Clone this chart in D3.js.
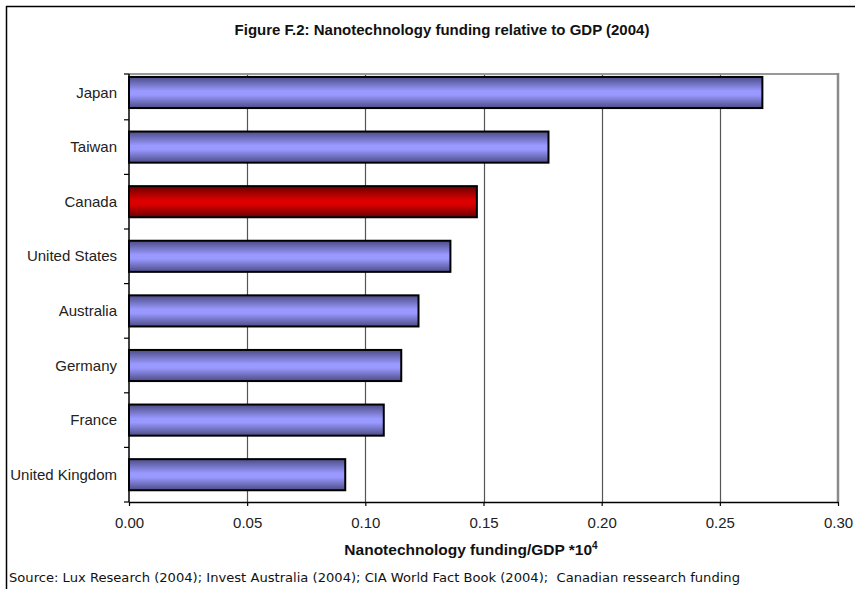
<!DOCTYPE html>
<html>
<head>
<meta charset="utf-8">
<script src="https://cdn.jsdelivr.net/npm/d3@7"></script>
<style>
  html, body { margin: 0; padding: 0; background: #fff; }
  svg { display: block; }
</style>
</head>
<body>
<svg id="chart" width="855" height="589"></svg>
<script>
const categories = ["Japan", "Taiwan", "Canada", "United States", "Australia", "Germany", "France", "United Kingdom"];
const values = [0.268, 0.1775, 0.1472, 0.136, 0.1225, 0.1152, 0.1078, 0.0915];
const highlight = ["Canada"];
const xTicks = [0, 0.05, 0.10, 0.15, 0.20, 0.25, 0.30];
const titleText = "Figure F.2: Nanotechnology funding relative to GDP (2004)";
const xTitleText = "Nanotechnology funding/GDP *10";
const xTitleSup = "4";
const sourceText = "Source: Lux Research (2004); Invest Australia (2004); CIA World Fact Book (2004);\u00a0 Canadian ressearch funding";

const svg = d3.select("#chart");
const W = 855, H = 589;
const plot = { left: 129, right: 838, top: 74, bottom: 502 };

// outer frame (partial, as cropped in reference)
svg.append("line").attr("x1", 6).attr("x2", W).attr("y1", 6.5).attr("y2", 6.5)
  .attr("stroke", "#000").attr("stroke-width", 1.5);
svg.append("line").attr("x1", 6.5).attr("x2", 6.5).attr("y1", 6).attr("y2", H)
  .attr("stroke", "#000").attr("stroke-width", 1.5);

const defs = svg.append("defs");
function grad(id, edge, mid) {
  const g = defs.append("linearGradient").attr("id", id)
    .attr("x1", 0).attr("x2", 0).attr("y1", 0).attr("y2", 1);
  g.append("stop").attr("offset", "0%").attr("stop-color", edge);
  g.append("stop").attr("offset", "45%").attr("stop-color", mid);
  g.append("stop").attr("offset", "58%").attr("stop-color", mid);
  g.append("stop").attr("offset", "100%").attr("stop-color", edge);
}
grad("gBlue", "#4c4c86", "#9999ff");
grad("gRed", "#6a0000", "#dd0000");

const x = d3.scaleLinear().domain([0, 0.30]).range([plot.left, plot.right]);
const step = 54.6;
const y = d3.scaleBand().domain(categories)
  .range([plot.bottom - step * categories.length, plot.bottom])
  .paddingInner(0.43).paddingOuter(0.215);

// title
svg.append("text").attr("x", 442).attr("y", 35).attr("text-anchor", "middle")
  .attr("font-family", "Liberation Sans, Arial, sans-serif").attr("font-weight", "bold")
  .attr("font-size", 15).attr("fill", "#111").text(titleText);

// gridlines
svg.append("g").selectAll("line").data(xTicks.filter(t => t > 0 && t < 0.30)).join("line")
  .attr("x1", d => Math.round(x(d)) + 0.5).attr("x2", d => Math.round(x(d)) + 0.5)
  .attr("y1", plot.top).attr("y2", plot.bottom)
  .attr("stroke", "#555").attr("stroke-width", 1.2);

// top & right frame
svg.append("line").attr("x1", plot.left).attr("x2", plot.right + 1)
  .attr("y1", plot.top).attr("y2", plot.top).attr("stroke", "#999").attr("stroke-width", 2);
svg.append("line").attr("x1", plot.right).attr("x2", plot.right)
  .attr("y1", plot.top - 1).attr("y2", plot.bottom).attr("stroke", "#8a8a8a").attr("stroke-width", 2.5);

// bars
svg.append("g").selectAll("rect").data(categories).join("rect")
  .attr("x", x(0))
  .attr("y", d => y(d))
  .attr("width", (d, i) => x(values[i]) - x(0))
  .attr("height", y.bandwidth())
  .attr("fill", d => highlight.includes(d) ? "url(#gRed)" : "url(#gBlue)")
  .attr("stroke", "#000").attr("stroke-width", 2);

// x axis
const xAxis = d3.axisBottom(x).tickValues(xTicks).tickFormat(d3.format(".2f"))
  .tickSizeInner(4).tickSizeOuter(0).tickPadding(11);
const gx = svg.append("g").attr("transform", `translate(0,${plot.bottom})`).call(xAxis);
gx.select(".domain").attr("stroke", "#000").attr("stroke-width", 1.5);
gx.selectAll(".tick line").attr("stroke", "#000").attr("stroke-width", 1.2);
gx.selectAll(".tick text").attr("font-family", "Liberation Sans, Arial, sans-serif")
  .attr("font-size", 15).attr("fill", "#222");

// y axis line
svg.append("line").attr("x1", plot.left).attr("x2", plot.left)
  .attr("y1", plot.top).attr("y2", plot.bottom).attr("stroke", "#000").attr("stroke-width", 1.5);
// y ticks at band boundaries
const bounds = categories.map(c => y(c) - y.step() * y.paddingInner() / 2);
const tickYs = [plot.top].concat(bounds.slice(1), [plot.bottom]);
svg.append("g").selectAll("line").data(tickYs).join("line")
  .attr("x1", plot.left - 5).attr("x2", plot.left)
  .attr("y1", d => d).attr("y2", d => d)
  .attr("stroke", "#000").attr("stroke-width", 1.2);
// category labels
svg.append("g").selectAll("text").data(categories).join("text")
  .attr("x", 117).attr("y", d => y(d) + y.bandwidth() / 2 + 5)
  .attr("text-anchor", "end")
  .attr("font-family", "Liberation Sans, Arial, sans-serif").attr("font-size", 15)
  .attr("fill", "#222").text(d => d);

// x title
const xt = svg.append("text").attr("x", 471).attr("y", 555).attr("text-anchor", "middle")
  .attr("font-family", "Liberation Sans, Arial, sans-serif").attr("font-weight", "bold")
  .attr("font-size", 15.5).attr("fill", "#111");
xt.append("tspan").text(xTitleText);
xt.append("tspan").attr("dy", -6).attr("font-size", 10).text(xTitleSup);

// source
svg.append("text").attr("x", 9).attr("y", 582)
  .attr("font-family", "DejaVu Sans, Verdana, sans-serif").attr("font-size", 11.5)
  .attr("fill", "#111")
  .attr("textLength", 731).attr("lengthAdjust", "spacingAndGlyphs")
  .text(sourceText);
</script>
</body>
</html>
